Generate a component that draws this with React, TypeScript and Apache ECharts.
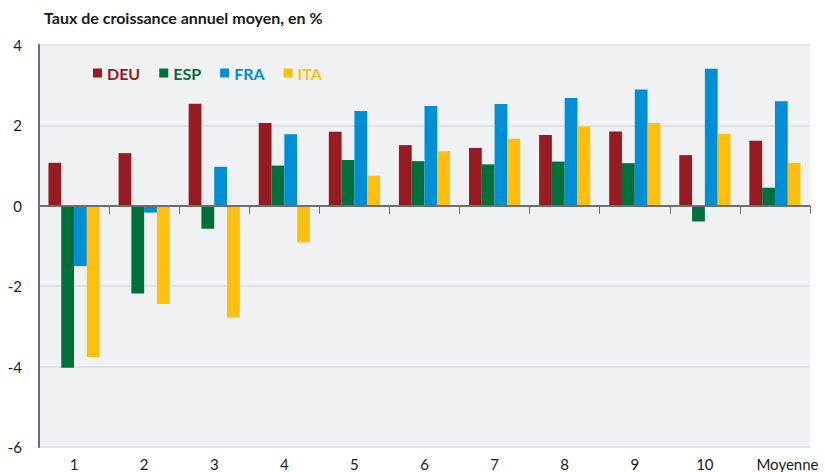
import React, { useEffect, useRef } from "react";
import * as echarts from "echarts";

const categories = ["1", "2", "3", "4", "5", "6", "7", "8", "9", "10", "Moyenne"];
const seriesNames = ["DEU", "ESP", "FRA", "ITA"];
const DEU = [1.07, 1.31, 2.54, 2.06, 1.84, 1.51, 1.44, 1.76, 1.85, 1.26, 1.62];
const ESP = [-4.03, -2.18, -0.57, 1.0, 1.14, 1.11, 1.03, 1.1, 1.06, -0.39, 0.45];
const FRA = [-1.5, -0.17, 0.97, 1.78, 2.36, 2.48, 2.53, 2.68, 2.89, 3.41, 2.6];
const ITA = [-3.76, -2.44, -2.78, -0.91, 0.75, 1.36, 1.67, 1.97, 2.06, 1.79, 1.07];
const colors = ["#961b22", "#006f3a", "#008fd5", "#fdc010"];
const title = "Taux de croissance annuel moyen, en %";

export default function App() {
  const ref = useRef<HTMLDivElement>(null);
  useEffect(() => {
    const chart = echarts.init(ref.current!, null, { renderer: "svg" });
    const values = [DEU, ESP, FRA, ITA];
    const font = "Lato, 'Noto Sans', sans-serif";
    chart.setOption({
      animation: false,
      textStyle: { fontFamily: font },
      title: {
        text: title,
        left: 39,
        top: 4,
        textStyle: { fontFamily: font, fontSize: 16, fontWeight: "bold", color: "#1a1a1a" },
      },
      legend: {
        left: 88,
        top: 60,
        icon: "rect",
        itemWidth: 9,
        itemHeight: 9,
        itemGap: 19,
        data: seriesNames.map((n, i) => ({
          name: n,
          textStyle: { color: colors[i], fontWeight: "bold", fontSize: 16, fontFamily: font },
        })),
      },
      grid: {
        left: 39,
        right: 15,
        top: 45,
        bottom: 25,
        show: true,
        backgroundColor: "#f0f1f3",
        borderWidth: 0,
      },
      xAxis: {
        type: "category",
        data: categories,
        axisLine: { show: true, lineStyle: { color: "#dcdde0", width: 1 } },
        axisTick: { show: true, length: 8, lineStyle: { color: "#6d6e71", width: 1 } },
        axisLabel: {
          interval: 0,
          color: "#1a1a1a",
          fontSize: 15,
          fontFamily: font,
          margin: 9,
          formatter: (v: string) => (v === "Moyenne" ? "{m|" + v + "}" : v),
          rich: { m: { padding: [0, 0, 0, 25], fontSize: 15, fontFamily: font, color: "#1a1a1a" } },
        },
        splitLine: { show: false },
      },
      yAxis: {
        type: "value",
        min: -6,
        max: 4,
        interval: 2,
        axisLine: { show: true, lineStyle: { color: "#6d6e71", width: 2 } },
        axisTick: { show: false },
        axisLabel: { color: "#1a1a1a", fontSize: 15, fontFamily: font, margin: 17 },
        splitLine: { show: true, lineStyle: { color: "#dcdde0", width: 1.5 } },
      },
      series: seriesNames.map((n, i) => ({
        name: n,
        type: "bar",
        data: values[i],
        barGap: "0%",
        barCategoryGap: "27%",
        itemStyle: { color: colors[i] },
        markLine:
          i === 0
            ? {
                silent: true,
                symbol: "none",
                label: { show: false },
                lineStyle: { color: "#6d6e71", width: 2, type: "solid" },
                data: [{ yAxis: 0 }],
              }
            : undefined,
      })),
    });
    return () => chart.dispose();
  }, []);
  return <div ref={ref} style={{ width: 825, height: 472, position: "absolute", left: 0, top: 0 }} />;
}
